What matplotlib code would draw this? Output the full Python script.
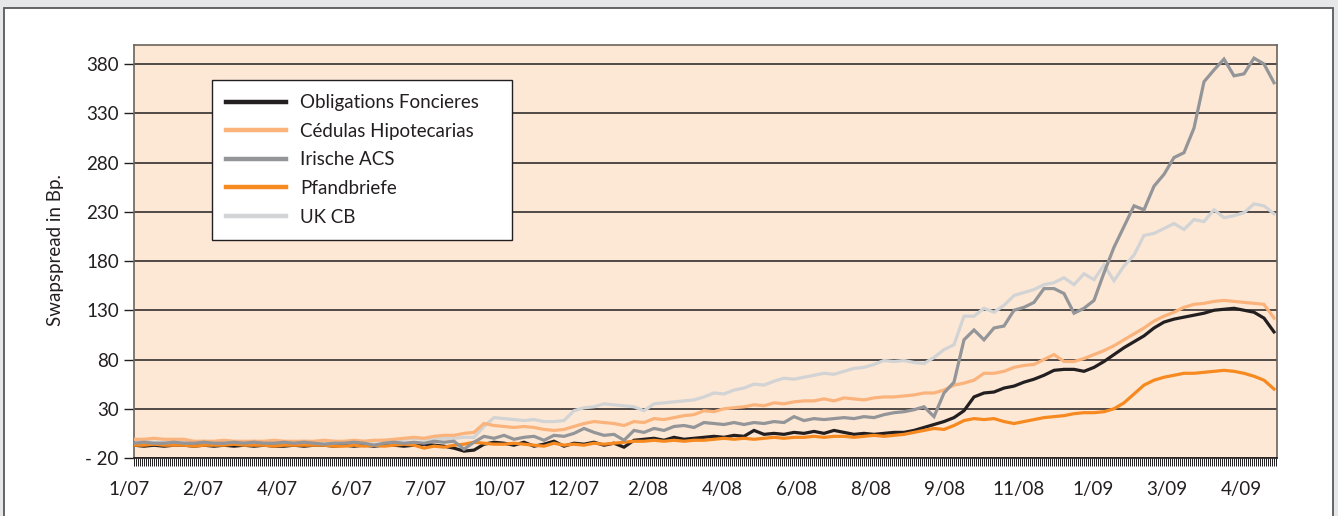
import numpy as np
import matplotlib.pyplot as plt
from matplotlib.patches import Rectangle
from matplotlib.lines import Line2D

# x-axis labels (evenly spaced under the daily series)
months = ["1/07", "2/07", "4/07", "6/07", "7/07", "10/07", "12/07", "2/08",
          "4/08", "6/08", "8/08", "9/08", "11/08", "1/09", "3/09", "4/09"]

# swap spreads in bp (roughly weekly samples)
oblig = [-7, -8, -7, -8, -7, -7, -8, -7, -8, -7, -8, -7, -8, -7, -8, -8, -7, -8, -7, -7,
         -8, -7, -8, -7, -8, -7, -7, -8, -7, -6, -7, -8, -10, -13, -12, -6, -4, -5, -7, -4,
         -8, -6, -3, -8, -5, -6, -4, -7, -5, -9, -2, -1, 0, -2, 1, -1, 0, 1, 2, 1,
         3, 2, 8, 4, 5, 4, 6, 5, 7, 5, 8, 6, 4, 5, 4, 5, 6, 6, 8, 11,
         14, 17, 21, 28, 42, 46, 47, 51, 53, 57, 60, 64, 69, 70, 70, 68, 72, 78, 85, 92,
         98, 104, 112, 118, 121, 123, 125, 127, 130, 131, 132, 130, 128, 122, 108]
cedulas = [-1, -1, 0, -1, -1, -1, -3, -3, -3, -2, -3, -3, -3, -3, -2, -3, -3, -3, -3, -2,
           -3, -3, -2, -3, -2, -2, -1, 0, 1, 0, 2, 3, 3, 5, 6, 15, 13, 12, 11, 12,
           11, 9, 8, 9, 12, 15, 17, 16, 15, 13, 17, 16, 20, 19, 21, 23, 24, 28, 27, 30,
           31, 32, 34, 33, 36, 35, 37, 38, 38, 40, 38, 41, 40, 39, 41, 42, 42, 43, 44, 46,
           46, 49, 54, 56, 59, 66, 66, 68, 72, 74, 75, 80, 85, 78, 78, 81, 85, 89, 94, 100,
           106, 112, 119, 124, 128, 133, 136, 137, 139, 140, 139, 138, 137, 136, 122]
irish = [-5, -4, -5, -5, -4, -5, -5, -4, -5, -5, -4, -5, -4, -5, -5, -4, -5, -4, -5, -6,
         -5, -5, -4, -5, -7, -5, -4, -5, -4, -5, -3, -4, -3, -11, -4, 2, 0, 3, -1, 1,
         2, -2, 3, 2, 5, 10, 6, 3, 4, -2, 8, 6, 10, 8, 12, 13, 11, 16, 15, 14,
         16, 14, 16, 15, 17, 16, 22, 18, 20, 19, 20, 21, 20, 22, 21, 24, 26, 27, 29, 32,
         22, 46, 57, 100, 110, 100, 112, 114, 130, 133, 138, 152, 152, 147, 127, 132, 140, 168, 194, 215,
         236, 232, 256, 268, 285, 290, 315, 362, 374, 385, 368, 370, 386, 380, 361]
pfand = [-7, -7, -6, -7, -7, -7, -8, -7, -7, -7, -6, -7, -7, -7, -8, -7, -7, -7, -7, -7,
         -8, -8, -7, -8, -7, -8, -7, -6, -7, -10, -8, -9, -7, -6, -4, -5, -6, -6, -5, -6,
         -7, -8, -5, -7, -6, -7, -5, -6, -5, -4, -3, -3, -2, -3, -2, -3, -2, -2, -1, 0,
         -1, 0, -1, 0, 1, 0, 1, 1, 2, 1, 2, 2, 1, 2, 3, 2, 3, 4, 6, 8,
         10, 9, 13, 18, 20, 19, 20, 17, 15, 17, 19, 21, 22, 23, 25, 26, 26, 27, 30, 36,
         45, 54, 59, 62, 64, 66, 66, 67, 68, 69, 68, 66, 63, 59, 50]
ukcb = [-4, -3, -4, -4, -3, -4, -4, -3, -4, -3, -4, -4, -3, -4, -3, -4, -4, -3, -4, -3,
        -3, -4, -3, -3, -3, -2, -3, -1, 0, -1, 0, 0, 0, 1, 1, 12, 21, 20, 19, 18,
        19, 17, 17, 18, 28, 31, 32, 35, 34, 33, 32, 28, 35, 36, 37, 38, 39, 42, 46, 45,
        49, 51, 55, 54, 58, 61, 60, 62, 64, 66, 65, 68, 71, 72, 75, 79, 78, 79, 77, 76,
        82, 90, 95, 124, 124, 132, 128, 135, 145, 148, 151, 156, 158, 163, 156, 167, 161, 176, 160, 175,
        186, 206, 208, 213, 218, 212, 222, 220, 232, 224, 226, 229, 238, 236, 228]

plt.rcParams['font.family'] = ['Lato', 'DejaVu Sans']

W, H = 1338, 516
fig = plt.figure(figsize=(W / 100, H / 100), dpi=100)
fig.patch.set_facecolor('#e6e7e8')
fig.add_artist(Rectangle((4 / W, -0.05), 1329 / W, 508 / H + 0.05, transform=fig.transFigure,
                         facecolor='white', edgecolor='#58595b', linewidth=1.3, zorder=-1))

ax = fig.add_axes([134 / W, 58 / H, 1143 / W, 413 / H])
ax.set_facecolor('#fde8d6')

x = np.arange(len(oblig))
series = [
    ("Obligations Foncieres", oblig, '#231f20', 4),
    ("Cédulas Hipotecarias", cedulas, '#fbb37c', 3),
    ("Irische ACS", irish, '#939598', 6),
    ("Pfandbriefe", pfand, '#f68a20', 5),
    ("UK CB", ukcb, '#d1d3d4', 2),
]
handles = []
for name, vals, col, z in series:
    ax.plot(x, vals, color=col, lw=2.3, zorder=z, solid_joinstyle='miter')
    handles.append(Line2D([], [], color=col, lw=3.2))

ax.set_xlim(0, 114.3)
ax.set_ylim(-20, 399.3)

yt = np.arange(-20, 381, 50)
ax.set_yticks(yt)
ax.set_yticklabels(['- 20' if v < 0 else str(v) for v in yt], fontsize=13.5, color='#231f20')
ax.tick_params(axis='y', length=7, width=1, color='#231f20', pad=4)
ax.grid(axis='y', color='#231f20', lw=1.1)
ax.set_axisbelow(True)

ax.set_xticks([])
ax.set_xticks(np.arange(0, 114.3, 0.2), minor=True)
ax.tick_params(axis='x', which='minor', length=5.5, width=0.7, color='#231f20')

# month labels, evenly spread like the source chart
for k, lab in enumerate(months):
    ax.annotate(lab, xy=(-0.5 + k * 7.413, 0), xycoords=('data', 'axes fraction'),
                xytext=(0, -32), textcoords='offset pixels', ha='center', va='center',
                fontsize=13.5, color='#231f20', annotation_clip=False)

for s in ['left', 'top', 'right']:
    ax.spines[s].set_color('#6d625a')
    ax.spines[s].set_linewidth(1.2)
ax.spines['bottom'].set_color('#231f20')
ax.spines['bottom'].set_linewidth(1.2)

fig.text(56 / W, 1 - 250 / H, "Swapspread in Bp.", rotation=90, ha='center', va='center',
         fontsize=13.5, color='#231f20')

leg = ax.legend(handles, [s[0] for s in series], loc='upper left',
                bbox_to_anchor=(78 / 1143, 0.3, 300 / 1143, (458 - 80) / 413 - 0.3),
                mode='expand', borderaxespad=0, fancybox=False, framealpha=1,
                edgecolor='#231f20', fontsize=13.5, handlelength=3.2, handletextpad=0.75,
                borderpad=0.75, labelspacing=0.62)
leg.get_frame().set_linewidth(1.0)
for t in leg.get_texts():
    t.set_color('#231f20')

fig.savefig('out.png', dpi=100, facecolor=fig.get_facecolor())
